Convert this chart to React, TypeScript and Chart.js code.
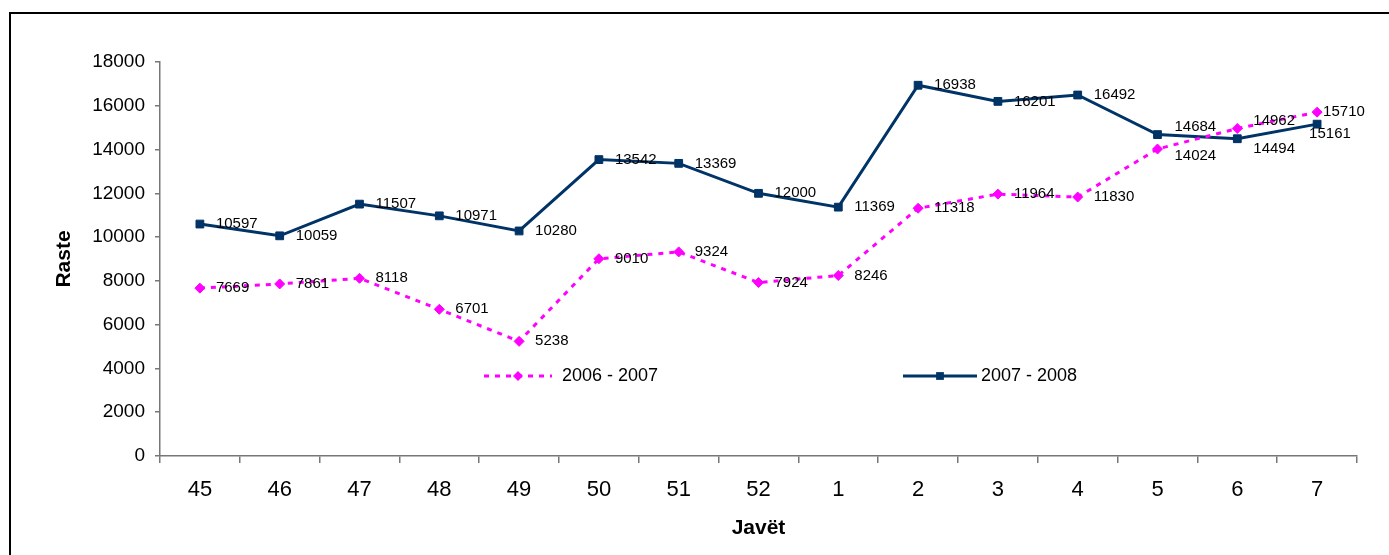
import React, { useEffect, useRef } from "react";
import { Chart, registerables } from "chart.js";

Chart.register(...registerables);

const categories = ["45", "46", "47", "48", "49", "50", "51", "52", "1", "2", "3", "4", "5", "6", "7"];
const series0607 = [7669, 7861, 8118, 6701, 5238, 9010, 9324, 7924, 8246, 11318, 11964, 11830, 14024, 14962, 15710];
const series0708 = [10597, 10059, 11507, 10971, 10280, 13542, 13369, 12000, 11369, 16938, 16201, 16492, 14684, 14494, 15161];
const seriesNames = ["2006 - 2007", "2007 - 2008"];

// label offsets (style only): [dx, dy] relative to point
const labelOffsets0607: Array<[number, number]> = [
  [16, 0], [16, 0], [16, 0], [16, 0], [16, 0], [16, 0], [16, 0], [16, 0],
  [16, 0], [16, 0], [16, 0], [16, 0], [17, 7], [16, -8], [6, 0],
];
const labelOffsets0708: Array<[number, number]> = [
  [16, 0], [16, 0], [16, 0], [16, 0], [16, 0], [16, 0], [16, 0], [16, 0],
  [16, 0], [16, 0], [16, 0], [16, 0], [17, -8], [16, 10], [-8, 10],
];

const FONT = '"Liberation Sans", Arial, sans-serif';
const PINK = "#FF00FF";
const NAVY = "#003366";
const AXIS = "#777777";

const pointLabelPlugin = {
  id: "pointLabels",
  afterDatasetsDraw(chart: any) {
    const ctx = chart.ctx;
    ctx.save();
    ctx.font = `15px ${FONT}`;
    ctx.fillStyle = "#000";
    ctx.textAlign = "left";
    ctx.textBaseline = "middle";
    chart.data.datasets.forEach((ds: any, di: number) => {
      const meta = chart.getDatasetMeta(di);
      const offs = di === 0 ? labelOffsets0607 : labelOffsets0708;
      meta.data.forEach((pt: any, i: number) => {
        const [dx, dy] = offs[i] || [16, 0];
        ctx.fillText(String(ds.data[i]), pt.x + dx, pt.y + dy);
      });
    });
    ctx.restore();
  },
};

const legendPlugin = {
  id: "innerLegend",
  afterDraw(chart: any) {
    const ctx = chart.ctx;
    const y = 376;
    const items = [
      { x1: 484, x2: 552, tx: 562 },
      { x1: 903, x2: 977, tx: 981 },
    ];
    chart.data.datasets.forEach((ds: any, di: number) => {
      const it = items[di];
      ctx.save();
      ctx.strokeStyle = ds.borderColor;
      ctx.lineWidth = ds.borderWidth;
      ctx.setLineDash(ds.borderDash || []);
      ctx.beginPath();
      ctx.moveTo(it.x1, y);
      ctx.lineTo(it.x2, y);
      ctx.stroke();
      ctx.setLineDash([]);
      const cx = (it.x1 + it.x2) / 2;
      ctx.fillStyle = ds.pointBackgroundColor;
      const r = ds.pointRadius;
      ctx.beginPath();
      if (ds.pointStyle === "rectRot") {
        ctx.moveTo(cx, y - r);
        ctx.lineTo(cx + r, y);
        ctx.lineTo(cx, y + r);
        ctx.lineTo(cx - r, y);
        ctx.closePath();
      } else {
        const s = r * Math.SQRT1_2;
        ctx.rect(cx - s, y - s, 2 * s, 2 * s);
      }
      ctx.fill();
      ctx.font = `18px ${FONT}`;
      ctx.fillStyle = "#000";
      ctx.textAlign = "left";
      ctx.textBaseline = "middle";
      ctx.fillText(ds.label, it.tx, y);
      ctx.restore();
    });
  },
};

export default function App() {
  const ref = useRef<HTMLCanvasElement>(null);
  useEffect(() => {
    if (!ref.current) return;
    const chart = new Chart(ref.current, {
      type: "line",
      data: {
        labels: categories,
        datasets: [
          {
            label: seriesNames[0],
            data: series0607,
            borderColor: PINK,
            backgroundColor: PINK,
            pointBackgroundColor: PINK,
            pointBorderColor: PINK,
            borderWidth: 3,
            borderDash: [5, 6],
            pointStyle: "rectRot",
            pointRadius: 5,
            pointBorderWidth: 1,
            tension: 0,
          } as any,
          {
            label: seriesNames[1],
            data: series0708,
            borderColor: NAVY,
            backgroundColor: NAVY,
            pointBackgroundColor: NAVY,
            pointBorderColor: NAVY,
            borderWidth: 3,
            pointStyle: "rect",
            pointRadius: 5.5,
            pointBorderWidth: 1,
            tension: 0,
          } as any,
        ],
      },
      options: {
        animation: false,
        responsive: false,
        devicePixelRatio: 1,
        layout: { padding: { left: 0, top: 62, right: 32, bottom: 0 } },
        plugins: { legend: { display: false }, tooltip: { enabled: false } },
        scales: {
          x: {
            type: "category",
            offset: true,
            grid: {
              display: true,
              drawOnChartArea: false,
              drawTicks: true,
              tickLength: 7,
              color: AXIS,
              lineWidth: 1.5,
              offset: true,
            },
            border: { display: true, color: AXIS, width: 1.5 },
            ticks: {
              color: "#000",
              font: { size: 22, family: FONT },
              padding: 14,
              maxRotation: 0,
              autoSkip: false,
            },
            title: {
              display: true,
              text: "Javët",
              color: "#000",
              font: { size: 21, weight: "bold", family: FONT },
              padding: { top: 0, bottom: 14 },
            },
            afterFit: (s: any) => {
              s.height = 99;
            },
          },
          y: {
            min: 0,
            max: 18000,
            grid: {
              display: true,
              drawOnChartArea: false,
              drawTicks: true,
              tickLength: 5,
              color: AXIS,
              lineWidth: 1.5,
            },
            border: { display: true, color: AXIS, width: 1.5 },
            ticks: {
              stepSize: 2000,
              color: "#000",
              font: { size: 19, family: FONT },
              padding: 10,
              callback: (v: any) => String(v),
            },
            title: {
              display: true,
              text: "Raste",
              color: "#000",
              font: { size: 21, weight: "bold", family: FONT },
              padding: { top: 52, bottom: 0 },
            },
            afterFit: (s: any) => {
              s.width = 160;
            },
          },
        },
      } as any,
      plugins: [pointLabelPlugin, legendPlugin],
    });
    return () => chart.destroy();
  }, []);

  return (
    <div
      style={{
        position: "fixed",
        left: 0,
        top: 0,
        width: 1389,
        height: 555,
        overflow: "hidden",
        background: "#fff",
      }}
    >
      <div
        style={{
          position: "absolute",
          left: 9,
          top: 12,
          width: 1500,
          height: 700,
          borderTop: "2px solid #000",
          borderLeft: "2px solid #000",
        }}
      />
      <canvas
        ref={ref}
        width={1389}
        height={555}
        style={{ position: "absolute", left: 0, top: 0, width: 1389, height: 555 }}
      />
    </div>
  );
}
